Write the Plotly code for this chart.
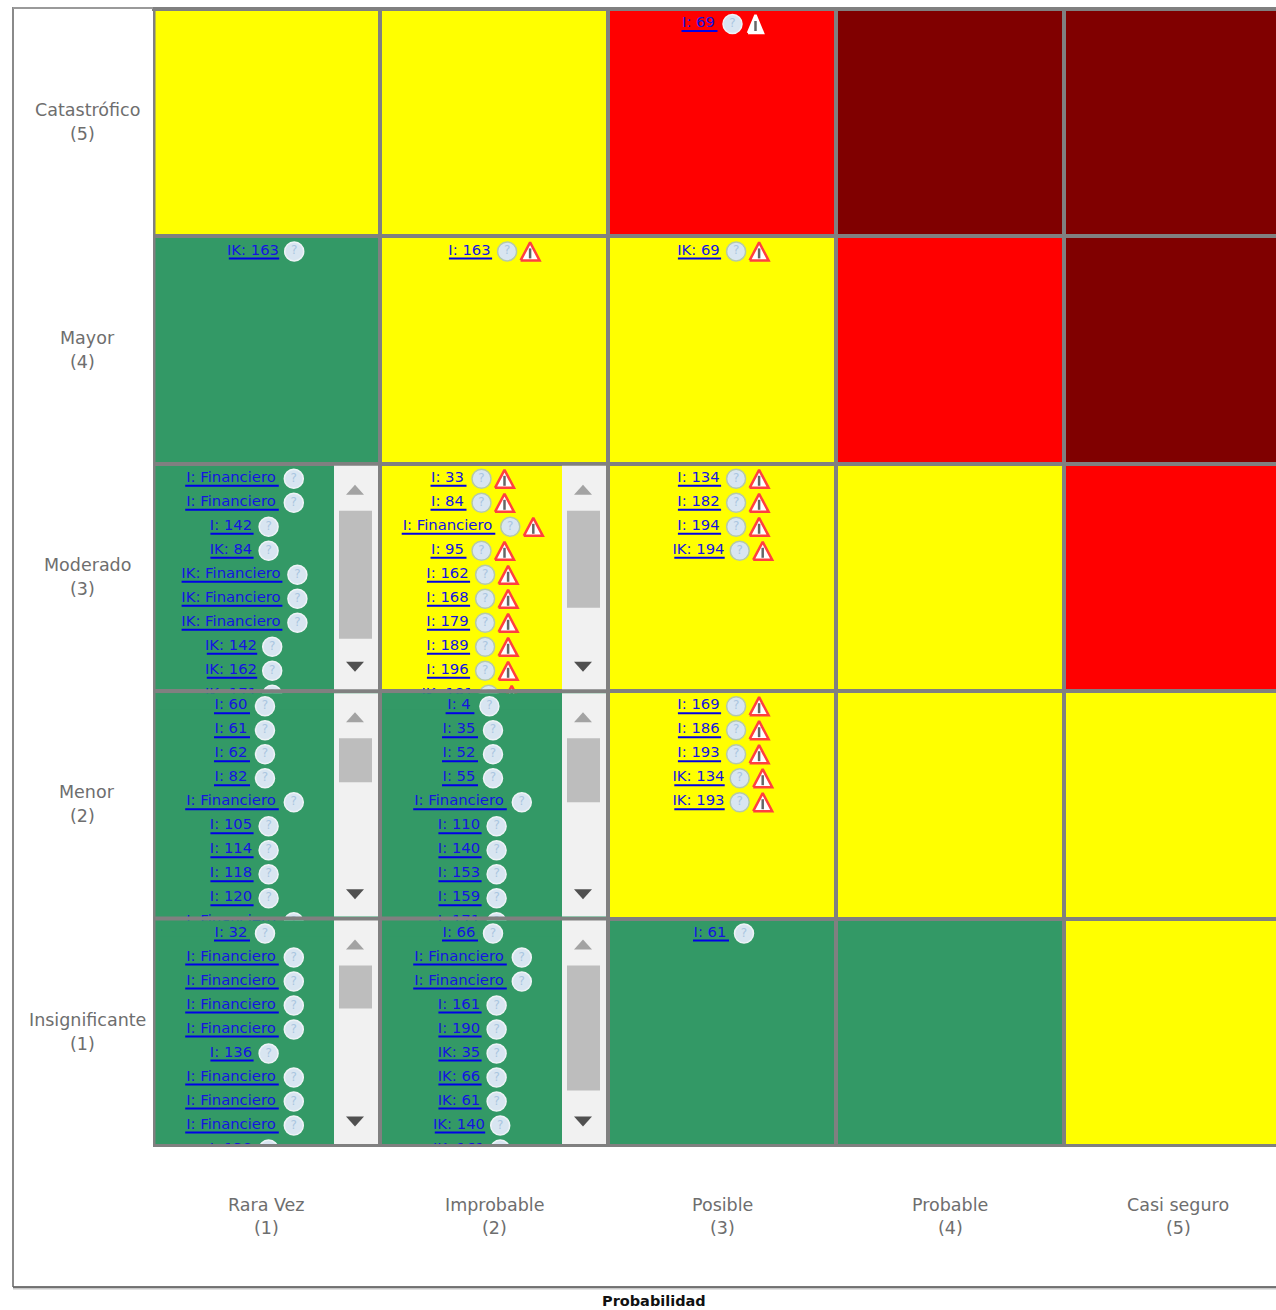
import plotly.graph_objects as go

# ---- data ----
probabilidad = ["Rara Vez", "Improbable", "Posible", "Probable", "Casi seguro"]
probabilidad_num = ["(1)", "(2)", "(3)", "(4)", "(5)"]
impacto = ["Insignificante", "Menor", "Moderado", "Mayor", "Catastrófico"]
impacto_num = ["(1)", "(2)", "(3)", "(4)", "(5)"]
col_idx = [1, 2, 3, 4, 5]
row_idx = [1, 2, 3, 4, 5]
# 0 green, 1 yellow, 2 red, 3 dark red ; first row = Insignificante
nivel = [
    [0, 0, 0, 0, 1],
    [0, 0, 1, 1, 1],
    [0, 1, 1, 1, 2],
    [0, 1, 1, 2, 3],
    [1, 1, 2, 3, 3],
]
F = "I: Financiero"
M = "IK: Financiero"
r5_c3 = ["I: 69"]
r4_c1 = ["IK: 163"]
r4_c2 = ["I: 163"]
r4_c3 = ["IK: 69"]
r3_c1 = [F, F, "I: 142", "IK: 84", M, M, M, "IK: 142", "IK: 162", "IK: 171"]
r3_c2 = ["I: 33", "I: 84", F, "I: 95", "I: 162", "I: 168", "I: 179", "I: 189", "I: 196", "IK: 181"]
r3_c3 = ["I: 134", "I: 182", "I: 194", "IK: 194"]
r2_c1 = ["I: 60", "I: 61", "I: 62", "I: 82", F, "I: 105", "I: 114", "I: 118", "I: 120", F]
r2_c2 = ["I: 4", "I: 35", "I: 52", "I: 55", F, "I: 110", "I: 140", "I: 153", "I: 159", "I: 171"]
r2_c3 = ["I: 169", "I: 186", "I: 193", "IK: 134", "IK: 193"]
r1_c1 = ["I: 32", F, F, F, F, "I: 136", F, F, F, "I: 138"]
r1_c2 = ["I: 66", F, F, "I: 161", "I: 190", "IK: 35", "IK: 66", "IK: 61", "IK: 140", "IK: 161"]
r1_c3 = ["I: 61"]
celdas = {
    (5, 3): r5_c3, (4, 1): r4_c1, (4, 2): r4_c2, (4, 3): r4_c3,
    (3, 1): r3_c1, (3, 2): r3_c2, (3, 3): r3_c3,
    (2, 1): r2_c1, (2, 2): r2_c2, (2, 3): r2_c3,
    (1, 1): r1_c1, (1, 2): r1_c2, (1, 3): r1_c3,
}
# scrollbar thumb height (px) per scrolling cell
thumb_h = {(3, 1): 128, (3, 2): 97, (2, 1): 44, (2, 2): 64, (1, 1): 43, (1, 2): 125}

GREEN, YELLOW, RED, DARK = "#339966", "#ffff00", "#ff0000", "#800000"
GRID = "#808080"

# ---- geometry: page pixels -> axis units ----
X0, Y0 = 152, 9
CW, CH = 228, 227.4
FIG_W, FIG_H = 1276, 1310
PW = 1276 - X0
PH = 5 * CH


def xd(px):
    return 0.5 + (px - X0) / CW


def yd(py):
    return 5.5 - (py - Y0) / CH


def xp(px):
    return (px - X0) / PW


def yp(py):
    return 1 - (py - Y0) / PH


def cell_left(c):
    return X0 + CW * (c - 1) + 2


def cell_right(c):
    return X0 + CW * c - 2


def cell_top(r):
    return Y0 + CH * (5 - r) + 2


def cell_bottom(r):
    return Y0 + CH * (6 - r) - 2


def lab_w(s):
    return 7.2 * len(s)


fig = go.Figure()
fig.add_trace(go.Heatmap(
    x=col_idx, y=row_idx, z=nivel, zmin=0, zmax=3, xgap=4, ygap=4, showscale=False, hoverinfo="skip",
    colorscale=[[0, GREEN], [0.25, GREEN], [0.25, YELLOW], [0.5, YELLOW], [0.5, RED], [0.75, RED], [0.75, DARK], [1, DARK]],
))

FONT = "DejaVu Sans"


def draw_row(r):
    tx, ty, tt = [], [], []
    ux, uy = [], []
    ix, iy, il = [], [], []
    ex, ey = [], []
    wfill_lines = {}
    for (rr, c), items in celdas.items():
        if rr != r:
            continue
        scroll = (r, c) in thumb_h
        left = cell_left(c)
        right = cell_right(c) - (44 if scroll else 0)
        mid = (left + right) / 2 + (1 if c == 3 else 0)
        lev = nivel[r - 1][c - 1]
        warn = lev >= 1
        for k, s in enumerate(items):
            w = lab_w(s)
            total = w + 24 + (23 if warn else 0)
            x1 = mid - total / 2
            y = cell_top(r) + 12 + 24 * k
            tx.append(xd(x1 + w / 2 - 1)); ty.append(yd(y + 0.5)); tt.append(s)
            ux += [xd(x1), xd(x1 + w), None]
            uy += [yd(y + 8), yd(y + 8), None]
            ix.append(xd(x1 + w + 15)); iy.append(yd(y + 1))
            il.append("#b5c9a8" if lev == 1 else "#eef3f7")
            if warn:
                cx = x1 + w + 38
                hw = 9.5 if lev == 1 else 7.5
                wfill_lines.setdefault(lev, [[], []])
                wfill_lines[lev][0] += [xd(cx - hw), xd(cx + hw), xd(cx), xd(cx - hw), None]
                wfill_lines[lev][1] += [yd(y + 10), yd(y + 10), yd(y - 8), yd(y + 10), None]
                ex += [xd(cx), xd(cx), None]
                ey += [yd(y - 2), yd(y + 8), None]
    fig.add_trace(go.Scatter(x=ux, y=uy, mode="lines", line=dict(color="#0000e6", width=2), hoverinfo="skip"))
    fig.add_trace(go.Scatter(x=tx, y=ty, mode="text", text=tt, textposition="middle center",
                             textfont=dict(family=FONT, size=14.8, color="#1414e0"), hoverinfo="skip"))
    fig.add_trace(go.Scatter(x=ix, y=iy, mode="markers+text", text=["?"] * len(ix), textposition="middle center",
                             textfont=dict(family=FONT, size=12, color="#aac6e0"),
                             marker=dict(size=19, color="#d8e5f1", line=dict(color=il, width=1.5)), hoverinfo="skip"))
    for lev, (px_, py_) in wfill_lines.items():
        fig.add_trace(go.Scatter(x=px_, y=py_, mode="lines", fill="toself", fillcolor="#ffffff",
                                 line=dict(color="#ff4040" if lev == 1 else "#ffffff", width=2.5), hoverinfo="skip"))
    if ex:
        fig.add_trace(go.Scatter(x=ex, y=ey, mode="lines", line=dict(color="#666666", width=2.5), hoverinfo="skip"))
    # strip that hides overflowing rows of the scrolling cells
    for c in (1, 2):
        if (r, c) in thumb_h and r > 1:
            b = cell_bottom(r)
            l, rt = xd(cell_left(c)), xd(cell_right(c) - 44)
            for (a, d, col) in ((b, b + 4, GRID), (b + 4, b + 20, GREEN)):
                fig.add_trace(go.Scatter(x=[l, rt, rt, l, l], y=[yd(a), yd(a), yd(d), yd(d), yd(a)],
                                         mode="lines", fill="toself", fillcolor=col, line=dict(width=0), hoverinfo="skip"))


for r in (5, 4, 3, 2, 1):
    draw_row(r)

shapes = []
for (r, c), h in thumb_h.items():
    rt = cell_right(c)
    t = cell_top(r)
    b = cell_bottom(r)
    shapes.append(dict(type="rect", xref="x", yref="y", x0=xd(rt - 44), x1=xd(rt), y0=yd(t), y1=yd(b),
                       fillcolor="#f1f1f1", line_width=0))
    shapes.append(dict(type="rect", xref="x", yref="y", x0=xd(rt - 39), x1=xd(rt - 6), y0=yd(t + 45), y1=yd(t + 45 + h),
                       fillcolor="#bdbdbd", line_width=0))
    ac = rt - 23
    shapes.append(dict(type="path", xref="x", yref="y", fillcolor="#a3a3a3", line_width=0,
                       path=f"M{xd(ac - 9)},{yd(t + 29)} L{xd(ac + 9)},{yd(t + 29)} L{xd(ac)},{yd(t + 19)} Z"))
    shapes.append(dict(type="path", xref="x", yref="y", fillcolor="#505050", line_width=0,
                       path=f"M{xd(ac - 9)},{yd(t + 196)} L{xd(ac + 9)},{yd(t + 196)} L{xd(ac)},{yd(t + 206)} Z"))

# outer frame and grid borders
shapes += [
    dict(type="rect", xref="paper", yref="paper", x0=xp(152), x1=xp(153), y0=yp(1146), y1=yp(11), fillcolor="#ffffff", line_width=0),
    dict(type="rect", xref="paper", yref="paper", x0=xp(153), x1=xp(155.5), y0=yp(1147), y1=yp(9), fillcolor=GRID, line_width=0),
    dict(type="rect", xref="paper", yref="paper", x0=xp(153), x1=1, y0=yp(1147), y1=yp(1144), fillcolor=GRID, line_width=0),
    dict(type="line", xref="paper", yref="paper", x0=xp(13), x1=xp(13), y0=yp(1287), y1=yp(7), line=dict(color="#8a8a8a", width=2)),
    dict(type="line", xref="paper", yref="paper", x0=xp(13), x1=1, y0=yp(1288), y1=yp(1288), line=dict(color="#c8c8c8", width=3)),
    dict(type="line", xref="paper", yref="paper", x0=xp(13), x1=1, y0=yp(1287), y1=yp(1287), line=dict(color="#555555", width=1.5)),
    dict(type="line", xref="paper", yref="paper", x0=xp(13), x1=xp(153), y0=yp(8), y1=yp(8), line=dict(color="#9a9a9a", width=2)),
    dict(type="line", xref="paper", yref="paper", x0=xp(153), x1=1, y0=yp(9), y1=yp(9), line=dict(color=GRID, width=4)),
]

ann = []
LBL = dict(family=FONT, size=17.5, color="#6e6e6e")
for i, r in enumerate(row_idx):
    yc = Y0 + CH * (5 - r) + CH / 2
    ann.append(dict(xref="paper", yref="paper", x=xp(87), y=yp(yc - 12.5), text=impacto[i], showarrow=False, font=LBL, xanchor="center", yanchor="middle"))
    ann.append(dict(xref="paper", yref="paper", x=xp(82), y=yp(yc + 11.5), text=impacto_num[i], showarrow=False, font=LBL, xanchor="center", yanchor="middle"))
for i, c in enumerate(col_idx):
    ann.append(dict(xref="x", yref="paper", x=c + 0.002, y=yp(1205), text=probabilidad[i], showarrow=False, font=LBL, xanchor="center", yanchor="middle"))
    ann.append(dict(xref="x", yref="paper", x=c + 0.002, y=yp(1228), text=probabilidad_num[i], showarrow=False, font=LBL, xanchor="center", yanchor="middle"))
ann.append(dict(xref="paper", yref="paper", x=xp(654), y=yp(1300.5), text="<b>Probabilidad</b>", showarrow=False,
                font=dict(family=FONT, size=14.5, color="#111111"), xanchor="center", yanchor="middle"))

fig.update_layout(
    width=FIG_W, height=FIG_H, autosize=False, showlegend=False,
    margin=dict(l=X0, r=0, t=Y0, b=FIG_H - (PH + Y0), pad=0),
    plot_bgcolor=GRID, paper_bgcolor="#ffffff",
    xaxis=dict(range=[0.5, 0.5 + PW / CW], visible=False, fixedrange=True),
    yaxis=dict(range=[0.5, 5.5], visible=False, fixedrange=True),
    shapes=shapes, annotations=ann,
)
fig.write_html("out.html", config={"displayModeBar": False},
               post_script="document.body.style.margin='0';document.documentElement.style.overflow='hidden';")
